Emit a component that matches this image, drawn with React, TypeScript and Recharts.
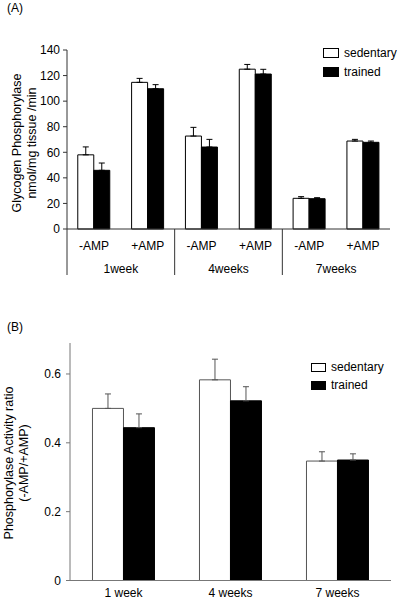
import { Bar, BarChart, ErrorBar, Label, Legend, XAxis, YAxis } from "recharts";

const FONT = "'Liberation Sans', Arial, sans-serif";

// panel A: glycogen phosphorylase activity
const ampLabels = ["-AMP", "+AMP", "-AMP", "+AMP", "-AMP", "+AMP"];
const weekGroups = ["1week", "4weeks", "7weeks"];
const sedentaryA = [58, 114.7, 72.7, 125, 24, 68.8];
const sedentaryErrA = [6.2, 3.1, 6.8, 3.7, 1.3, 1.3];
const trainedA = [45.9, 109.7, 64.1, 121.2, 23.7, 67.8];
const trainedErrA = [5.7, 3.2, 6, 3.7, 0.8, 1];
const ticksA = [0, 20, 40, 60, 80, 100, 120, 140];

// panel B: activity ratio
const weekLabels = ["1 week", "4 weeks", "7 weeks"];
const sedentaryB = [0.5, 0.583, 0.347];
const sedentaryErrB = [0.042, 0.06, 0.027];
const trainedB = [0.444, 0.522, 0.35];
const trainedErrB = [0.04, 0.041, 0.018];
const ticksB = [0, 0.2, 0.4, 0.6];

const dataA = ampLabels.map((cat, i) => ({
  cat,
  sedentary: sedentaryA[i],
  sedErr: [0, sedentaryErrA[i]],
  trained: trainedA[i],
  trErr: [0, trainedErrA[i]],
}));

const dataB = weekLabels.map((cat, i) => ({
  cat,
  sedentary: sedentaryB[i],
  sedErr: [0, sedentaryErrB[i]],
  trained: trainedB[i],
  trErr: [0, trainedErrB[i]],
}));

const W = 400;
const A_LEFT = 67;
const A_RIGHT = 10;
const halfBandA = (W - A_LEFT - A_RIGHT) / ampLabels.length / 2;

function TickA(props: any) {
  const { x, y, payload, index } = props;
  const first = index % 2 === 0;
  return (
    <g>
      <text x={x} y={y + 21} textAnchor="middle" fontSize={12} fontFamily={FONT} fill="#000">
        {payload.value}
      </text>
      {first && (
        <>
          <line x1={x - halfBandA} y1={y} x2={x - halfBandA} y2={y + 46} stroke="#333" />
          <text x={x + halfBandA} y={y + 44} textAnchor="middle" fontSize={12} fontFamily={FONT} fill="#000">
            {weekGroups[index / 2]}
          </text>
        </>
      )}
    </g>
  );
}

function LegendBox({ gap, box }: { gap: number; box: [number, number] }) {
  const rows = [
    { name: "sedentary", fill: "#fff" },
    { name: "trained", fill: "#000" },
  ];
  return (
    <div style={{ fontFamily: FONT, fontSize: 12, color: "#000" }}>
      {rows.map((r) => (
        <div key={r.name} style={{ display: "flex", alignItems: "center", height: gap }}>
          <span
            style={{
              display: "inline-block",
              width: box[0],
              height: box[1],
              background: r.fill,
              border: "1px solid #000",
              boxSizing: "border-box",
              marginRight: 5,
            }}
          />
          <span>{r.name}</span>
        </div>
      ))}
    </div>
  );
}

function axisTitle(x1: number, x2: number, cy: number, l1: string, l2: string) {
  return () => (
    <g fontFamily={FONT} fontSize={12.5} fill="#000">
      <text x={x1} y={cy} textAnchor="middle" transform={`rotate(-90 ${x1} ${cy})`}>
        {l1}
      </text>
      <text x={x2} y={cy} textAnchor="middle" transform={`rotate(-90 ${x2} ${cy})`}>
        {l2}
      </text>
    </g>
  );
}

export default function App() {
  return (
    <div
      style={{
        position: "fixed",
        top: 0,
        left: 0,
        width: W,
        height: 601,
        overflow: "hidden",
        background: "#fff",
        fontFamily: FONT,
      }}
    >
      <div style={{ position: "absolute", left: 7, top: 1, fontSize: 12 }}>(A)</div>
      <div style={{ position: "absolute", left: 7, top: 320, fontSize: 12 }}>(B)</div>

      <div style={{ position: "absolute", left: 0, top: 0 }}>
        <BarChart
          width={W}
          height={300}
          data={dataA}
          margin={{ top: 50, right: A_RIGHT, bottom: 0, left: 0 }}
          barCategoryGap="20%"
          barGap={0}
        >
          <XAxis
            dataKey="cat"
            tickLine={false}
            tickSize={0}
            tickMargin={0}
            axisLine={{ stroke: "#333" }}
            tick={<TickA />}
            interval={0}
            height={71}
          />
          <YAxis
            width={A_LEFT}
            domain={[0, 140]}
            ticks={ticksA}
            interval={0}
            tickSize={4}
            tickMargin={3}
            axisLine={{ stroke: "#333" }}
            tickLine={{ stroke: "#333" }}
            tick={{ fontSize: 12, fill: "#000", fontFamily: FONT }}
          >
            <Label content={axisTitle(21, 36, 143, "Glycogen Phosphorylase", "nmol/mg tissue /min")} />
          </YAxis>
          <Legend
            layout="horizontal"
            verticalAlign="middle"
            align="center"
            wrapperStyle={{ top: 43, left: 323, width: 80 }}
            content={() => <LegendBox gap={19} box={[16, 10]} />}
          />
          <Bar dataKey="sedentary" fill="#fff" stroke="#000" strokeWidth={1} isAnimationActive={false}>
            <ErrorBar dataKey="sedErr" width={3} stroke="#000" strokeWidth={1} direction="y" />
          </Bar>
          <Bar dataKey="trained" fill="#000" stroke="#000" strokeWidth={1} isAnimationActive={false}>
            <ErrorBar dataKey="trErr" width={3} stroke="#000" strokeWidth={1} direction="y" />
          </Bar>
        </BarChart>
      </div>

      <div style={{ position: "absolute", left: 0, top: 300 }}>
        <BarChart
          width={W}
          height={301}
          data={dataB}
          margin={{ top: 43, right: 9, bottom: 0, left: 0 }}
          barCategoryGap="21%"
          barGap={0}
        >
          <XAxis
            dataKey="cat"
            tickLine={false}
            tickSize={0}
            tickMargin={8}
            axisLine={{ stroke: "#777" }}
            tick={{ fontSize: 12, fill: "#000", fontFamily: FONT }}
            interval={0}
            height={20.5}
          />
          <YAxis
            width={70}
            domain={[0, 0.69]}
            ticks={ticksB}
            interval={0}
            tickSize={4}
            tickMargin={5}
            axisLine={{ stroke: "#777" }}
            tickLine={{ stroke: "#777" }}
            tick={{ fontSize: 12, fill: "#000", fontFamily: FONT }}
            tickFormatter={(v: number) => (v === 0 ? "0" : v.toFixed(1))}
          >
            <Label content={axisTitle(12.5, 28, 163, "Phosphorylase Activity ratio", "(-AMP/+AMP)")} />
          </YAxis>
          <Legend
            layout="horizontal"
            verticalAlign="middle"
            align="center"
            wrapperStyle={{ top: 58, left: 311, width: 85 }}
            content={() => <LegendBox gap={18} box={[15, 9]} />}
          />
          <Bar dataKey="sedentary" fill="#fff" stroke="#555" strokeWidth={1} isAnimationActive={false}>
            <ErrorBar dataKey="sedErr" width={3} stroke="#555" strokeWidth={1} direction="y" />
          </Bar>
          <Bar dataKey="trained" fill="#000" stroke="#000" strokeWidth={1} isAnimationActive={false}>
            <ErrorBar dataKey="trErr" width={3} stroke="#555" strokeWidth={1} direction="y" />
          </Bar>
        </BarChart>
      </div>
    </div>
  );
}
